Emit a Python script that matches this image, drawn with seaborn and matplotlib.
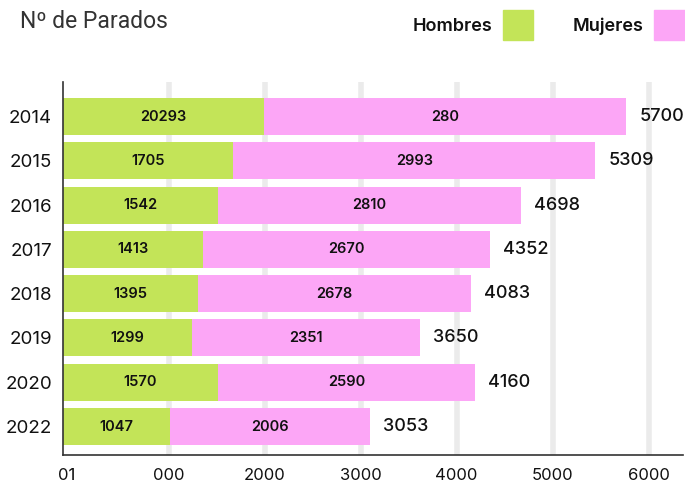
import matplotlib.pyplot as plt
import seaborn as sns
import pandas as pd
from matplotlib.patches import Patch

# values (bar lengths), labels as printed in the chart
years = ["2014", "2015", "2016", "2017", "2018", "2019", "2020", "2022"]
hombres = [2094, 1774, 1615, 1458, 1403, 1344, 1615, 1115]
mujeres = [3771, 3768, 3156, 2987, 2847, 2375, 2677, 2083]
hombres_labels = ["20293", "1705", "1542", "1413", "1395", "1299", "1570", "1047"]
mujeres_labels = ["280", "2993", "2810", "2670", "2678", "2351", "2590", "2006"]
total_labels = ["5700", "5309", "4698", "4352", "4083", "3650", "4160", "3053"]
tick_pos = [40, 1100, 2100, 3100, 4100, 5100, 6100]
tick_labels = ["01", "000", "2000", "3000", "4000", "5000", "6000"]

green = "#c3e458"
pink = "#fca6f6"

df = pd.DataFrame({"year": years, "Hombres": hombres, "Mujeres": mujeres})
df["total"] = df["Hombres"] + df["Mujeres"]

sns.set_theme(style="white")
plt.rcParams["font.family"] = ["Inter", "DejaVu Sans"]

fig = plt.figure(figsize=(6.85, 4.82), dpi=100)
ax = fig.add_axes([63 / 685, 1 - 455 / 482, 620 / 685, 373 / 482])

# pink = full bar, green drawn on top -> stacked look
sns.barplot(data=df, y="year", x="total", color=pink, width=0.835,
            saturation=1, linewidth=0, ax=ax)
sns.barplot(data=df, y="year", x="Hombres", color=green, width=0.835,
            saturation=1, linewidth=0, ax=ax)

ax.bar_label(ax.containers[1], labels=hombres_labels, label_type="center",
             fontsize=10.5, fontweight="semibold", color="#111")
for i, row in df.iterrows():
    ax.text((row["Hombres"] + row["total"]) / 2, i, mujeres_labels[i],
            ha="center", va="center", fontsize=10.5, fontweight="semibold",
            color="#111")
ax.bar_label(ax.containers[0], labels=total_labels, padding=9.5,
             fontsize=13, fontweight="medium", color="#111")

ax.set_xlim(0, 6458)
ax.set_ylim(7.643, -0.779)
ax.set_xticks(tick_pos, tick_labels)
ax.set_xlabel("")
ax.set_ylabel("")
ax.grid(axis="x", color="#ebebeb", linewidth=4)
ax.set_axisbelow(True)
ax.xaxis.get_gridlines()[0].set_visible(False)
ax.tick_params(axis="y", length=0, pad=8, labelsize=13.5, labelcolor="#111")
ax.tick_params(axis="x", length=0, pad=9, labelsize=12, labelcolor="#111")
for s in ["top", "right"]:
    ax.spines[s].set_visible(False)
for s in ["left", "bottom"]:
    ax.spines[s].set_color("#333")
    ax.spines[s].set_linewidth(1.2)

fig.text(20 / 685, 1 - 21 / 482, "Nº de Parados", fontsize=16.5, color="#333",
         va="center", ha="left", family=["Roboto", "DejaVu Sans"])

handles = [Patch(color=green, label="Hombres"), Patch(color=pink, label="Mujeres")]
fig.legend(handles=handles, loc="upper left", bbox_to_anchor=(413 / 685, 1 - 10 / 482),
           ncol=2, frameon=False, markerfirst=False, labelcolor="#111",
           prop={"family": "Inter", "weight": "semibold", "size": 13},
           handlelength=1.7, handleheight=2.2, handletextpad=0.55,
           columnspacing=2.2, borderpad=0, borderaxespad=0)

fig.savefig("out.png", dpi=100)
